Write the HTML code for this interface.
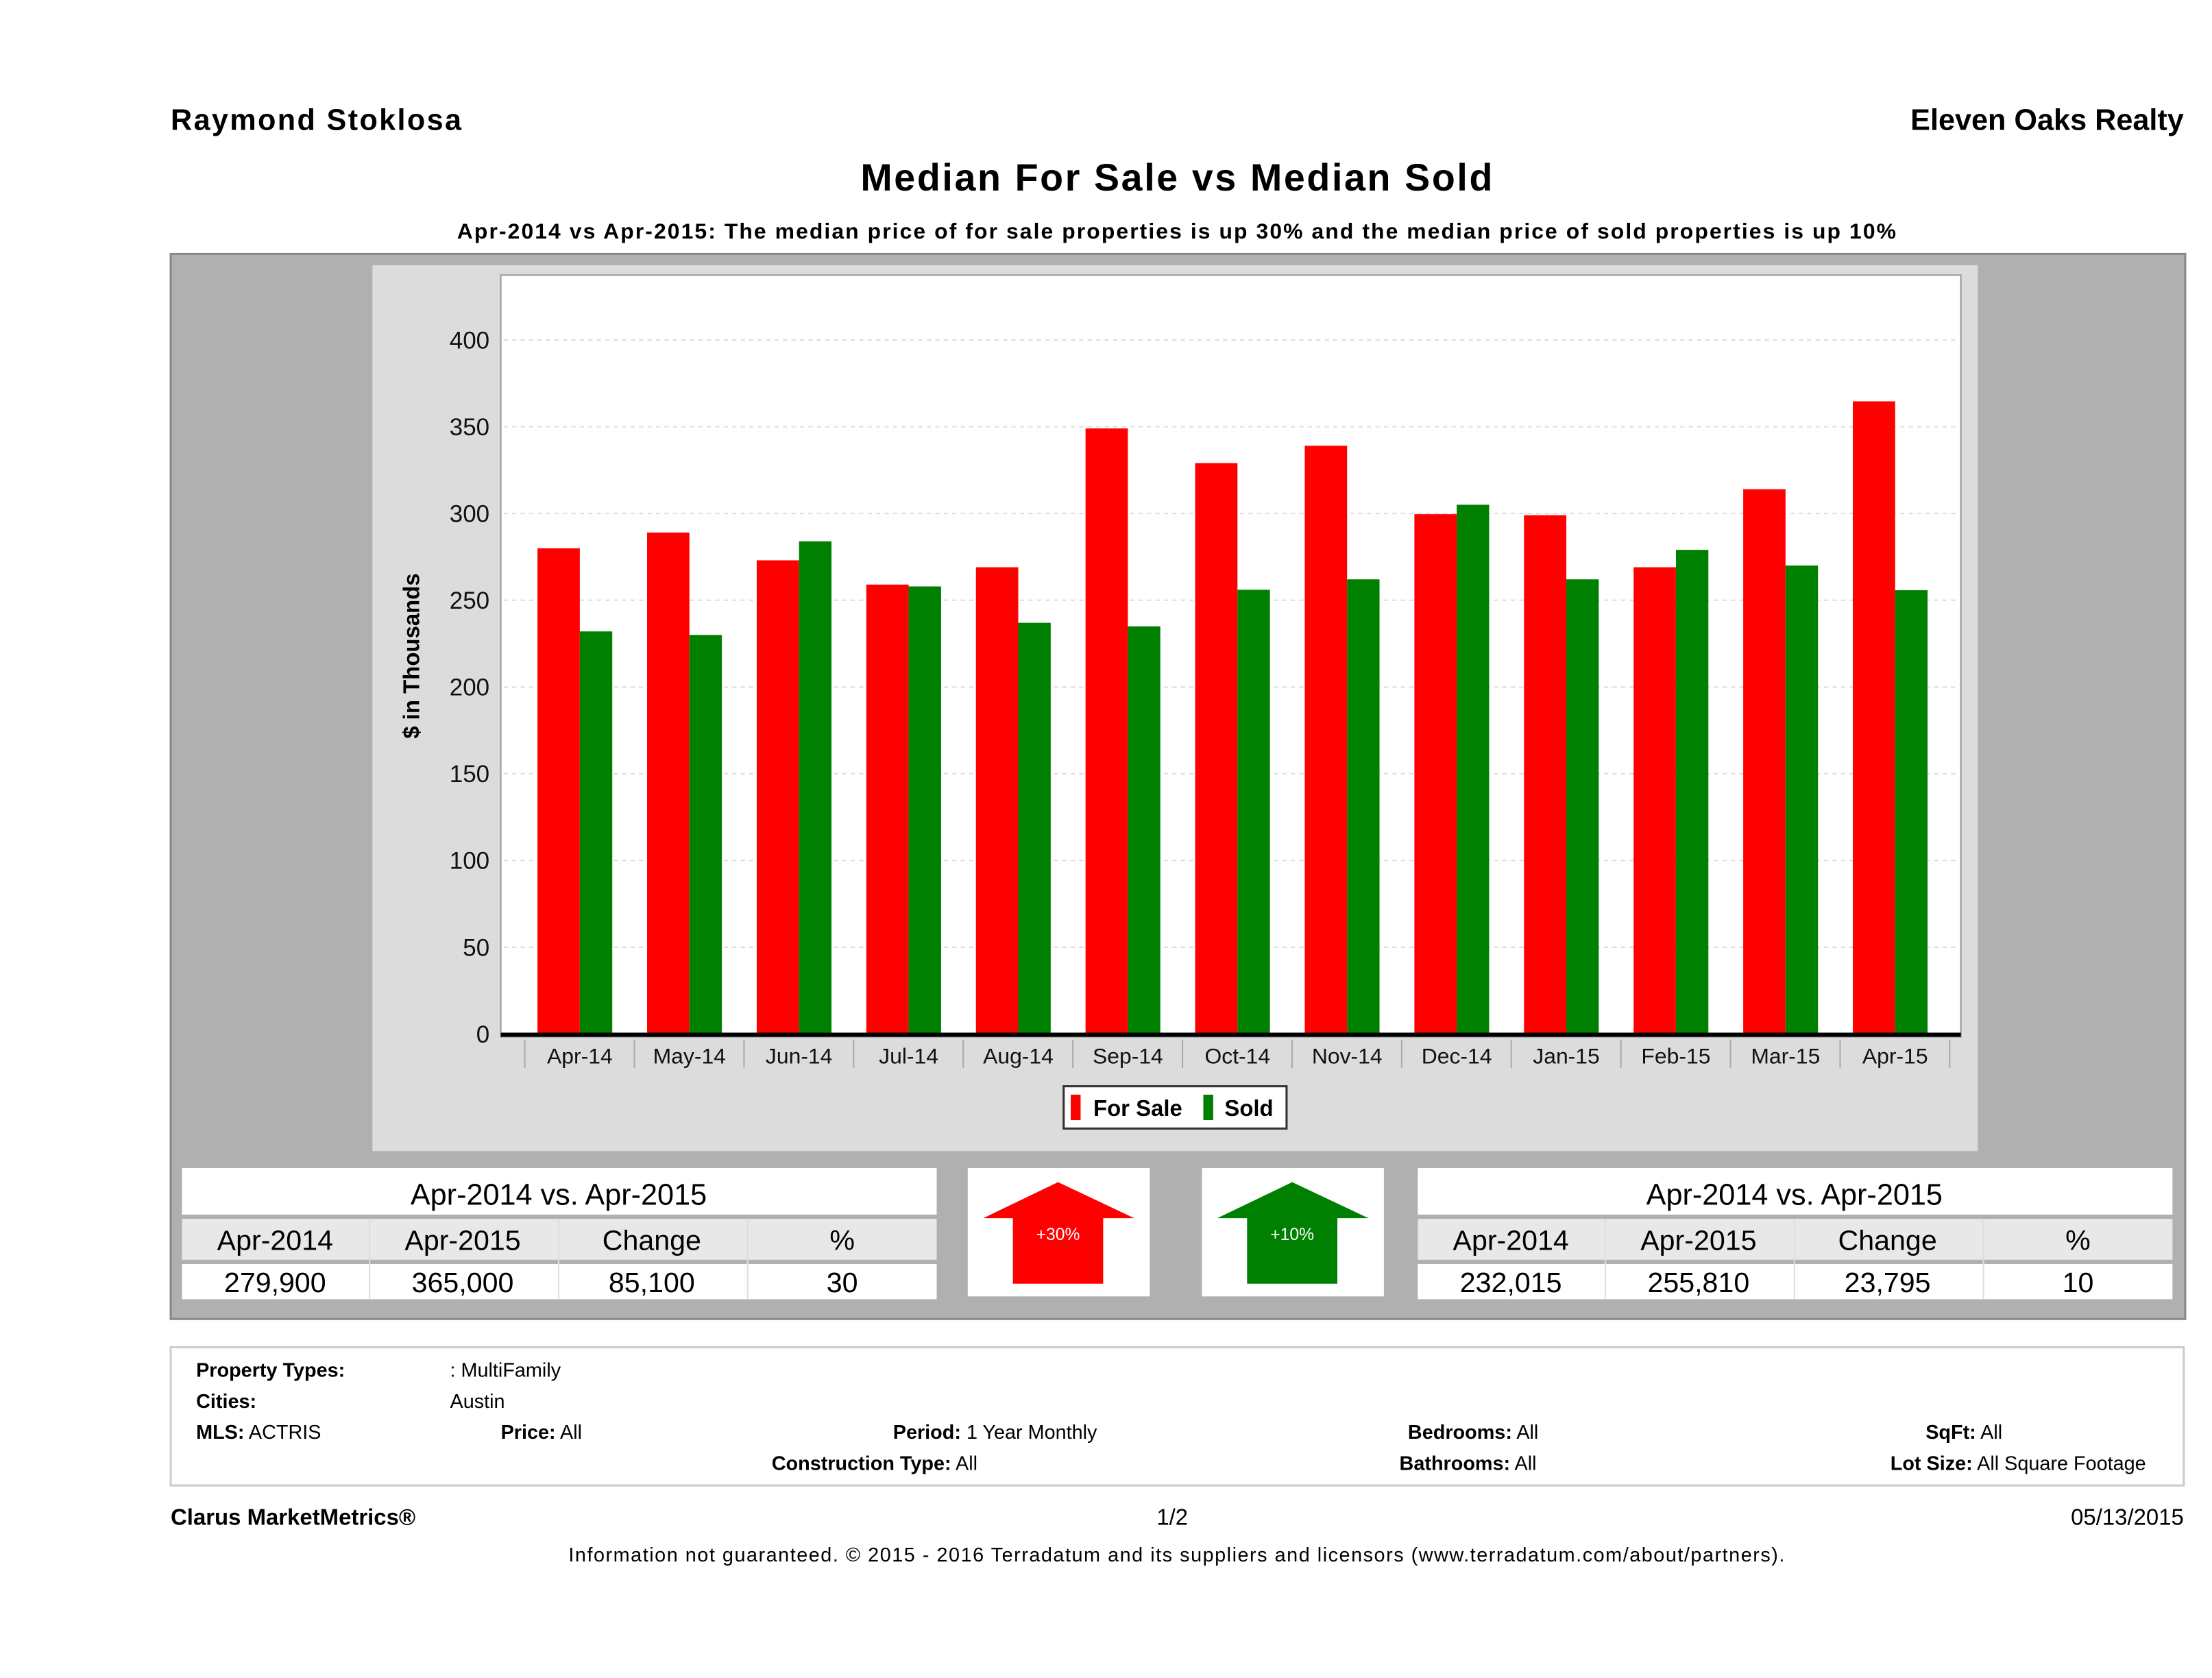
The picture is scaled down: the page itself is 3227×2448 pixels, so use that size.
<!DOCTYPE html>
<html><head><meta charset="utf-8"><style>
html,body{margin:0;padding:0;background:#fff;}
svg{display:block;}
text{font-family:"Liberation Sans",sans-serif;}
</style></head><body>
<svg width="3227" height="2448" viewBox="0 0 1568 1189.5" xmlns="http://www.w3.org/2000/svg">
<rect width="1568" height="1190" fill="#fff"/>
<text x="121" y="92" font-size="21" font-weight="bold" textLength="206">Raymond Stoklosa</text>
<text x="1548" y="92" font-size="21" font-weight="bold" text-anchor="end">Eleven Oaks Realty</text>
<text x="834" y="135" font-size="27" font-weight="bold" text-anchor="middle" textLength="448">Median For Sale vs Median Sold</text>
<text x="834" y="169" font-size="15.5" font-weight="bold" text-anchor="middle" textLength="1020">Apr-2014 vs Apr-2015: The median price of for sale properties is up 30% and the median price of sold properties is up 10%</text>
<!-- gray panel -->
<rect x="121" y="180" width="1428" height="755" fill="#b0b0b0" stroke="#888" stroke-width="1.5"/>
<rect x="264" y="188" width="1138" height="628" fill="#dcdcdc"/>
<rect x="355" y="195" width="1035" height="540" fill="#fff" stroke="#999" stroke-width="1"/>
<g stroke="#ddd" stroke-dasharray="3,3" stroke-width="1">
<line x1="357" x2="1389" y1="241" y2="241"/><line x1="357" x2="1389" y1="302.5" y2="302.5"/>
<line x1="357" x2="1389" y1="364" y2="364"/><line x1="357" x2="1389" y1="425.5" y2="425.5"/>
<line x1="357" x2="1389" y1="487" y2="487"/><line x1="357" x2="1389" y1="548.5" y2="548.5"/>
<line x1="357" x2="1389" y1="610" y2="610"/><line x1="357" x2="1389" y1="671.5" y2="671.5"/>
</g>
<g font-size="17" text-anchor="end" fill="#111">
<text x="347" y="247">400</text><text x="347" y="308.5">350</text><text x="347" y="370">300</text>
<text x="347" y="431.5">250</text><text x="347" y="493">200</text><text x="347" y="554.5">150</text>
<text x="347" y="616">100</text><text x="347" y="677.5">50</text><text x="347" y="739">0</text>
</g>
<text transform="translate(297,465) rotate(-90)" font-size="16" font-weight="bold" text-anchor="middle">$ in Thousands</text>
<g fill="#f00">
<rect x="381" y="388.7" width="30" height="344.3"/><rect x="458.7" y="377.5" width="30" height="355.5"/>
<rect x="536.4" y="397.2" width="30" height="335.8"/><rect x="614.1" y="414.4" width="30" height="318.6"/>
<rect x="691.8" y="402.1" width="30" height="330.9"/><rect x="769.5" y="303.7" width="30" height="429.3"/>
<rect x="847.2" y="328.3" width="30" height="404.7"/><rect x="924.9" y="316" width="30" height="417"/>
<rect x="1002.6" y="364.5" width="30" height="368.5"/><rect x="1080.3" y="365.2" width="30" height="367.8"/>
<rect x="1158" y="402.1" width="30" height="330.9"/><rect x="1235.7" y="346.8" width="30" height="386.2"/>
<rect x="1313.4" y="284.5" width="30" height="448.5"/>
</g>
<g fill="#008000">
<rect x="411" y="447.6" width="23" height="285.4"/><rect x="488.7" y="450.1" width="23" height="282.9"/>
<rect x="566.4" y="383.7" width="23" height="349.3"/><rect x="644.1" y="415.7" width="23" height="317.3"/>
<rect x="721.8" y="441.5" width="23" height="291.5"/><rect x="799.5" y="444" width="23" height="289"/>
<rect x="877.2" y="418.1" width="23" height="314.9"/><rect x="954.9" y="410.7" width="23" height="322.3"/>
<rect x="1032.6" y="357.8" width="23" height="375.2"/><rect x="1110.3" y="410.7" width="23" height="322.3"/>
<rect x="1188" y="389.8" width="23" height="343.2"/><rect x="1265.7" y="400.9" width="23" height="332.1"/>
<rect x="1343.4" y="418.4" width="23" height="314.6"/>
</g>
<line x1="355" x2="1390" y1="733.5" y2="733.5" stroke="#000" stroke-width="3"/>
<g stroke="#aaa" stroke-width="1">
<line x1="372" x2="372" y1="737" y2="757"/><line x1="449.7" x2="449.7" y1="737" y2="757"/>
<line x1="527.4" x2="527.4" y1="737" y2="757"/><line x1="605.1" x2="605.1" y1="737" y2="757"/>
<line x1="682.8" x2="682.8" y1="737" y2="757"/><line x1="760.5" x2="760.5" y1="737" y2="757"/>
<line x1="838.2" x2="838.2" y1="737" y2="757"/><line x1="915.9" x2="915.9" y1="737" y2="757"/>
<line x1="993.6" x2="993.6" y1="737" y2="757"/><line x1="1071.3" x2="1071.3" y1="737" y2="757"/>
<line x1="1149" x2="1149" y1="737" y2="757"/><line x1="1226.7" x2="1226.7" y1="737" y2="757"/>
<line x1="1304.4" x2="1304.4" y1="737" y2="757"/><line x1="1382.1" x2="1382.1" y1="737" y2="757"/>
</g>
<g font-size="15.5" text-anchor="middle" fill="#111">
<text x="411" y="754">Apr-14</text><text x="488.7" y="754">May-14</text><text x="566.4" y="754">Jun-14</text>
<text x="644.1" y="754">Jul-14</text><text x="721.8" y="754">Aug-14</text><text x="799.5" y="754">Sep-14</text>
<text x="877.2" y="754">Oct-14</text><text x="954.9" y="754">Nov-14</text><text x="1032.6" y="754">Dec-14</text>
<text x="1110.3" y="754">Jan-15</text><text x="1188" y="754">Feb-15</text><text x="1265.7" y="754">Mar-15</text>
<text x="1343.4" y="754">Apr-15</text>
</g>
<rect x="754" y="770" width="158" height="30" fill="#fff" stroke="#333" stroke-width="1.5"/>
<rect x="759" y="776" width="7" height="18" fill="#f00"/>
<text x="775" y="791" font-size="16" font-weight="bold">For Sale</text>
<rect x="853" y="776" width="7" height="18" fill="#008000"/>
<text x="868" y="791" font-size="16" font-weight="bold">Sold</text>
<!-- left table -->
<g>
<rect x="129" y="828" width="535" height="33" fill="#fff"/>
<rect x="129" y="864" width="535" height="29" fill="#e8e8e8"/>
<rect x="129" y="896" width="535" height="25" fill="#fff"/>
<text x="396" y="854" font-size="21" text-anchor="middle">Apr-2014 vs. Apr-2015</text>
<g font-size="20" text-anchor="middle">
<text x="195" y="886">Apr-2014</text><text x="328" y="886">Apr-2015</text><text x="462" y="886">Change</text><text x="597" y="886">%</text>
<text x="195" y="916">279,900</text><text x="328" y="916">365,000</text><text x="462" y="916">85,100</text><text x="597" y="916">30</text>
</g>
<g stroke="#ddd"><line x1="262" x2="262" y1="864" y2="921"/><line x1="396" x2="396" y1="864" y2="921"/><line x1="530" x2="530" y1="864" y2="921"/></g>
</g>
<g>
<rect x="1005" y="828" width="535" height="33" fill="#fff"/>
<rect x="1005" y="864" width="535" height="29" fill="#e8e8e8"/>
<rect x="1005" y="896" width="535" height="25" fill="#fff"/>
<text x="1272" y="854" font-size="21" text-anchor="middle">Apr-2014 vs. Apr-2015</text>
<g font-size="20" text-anchor="middle">
<text x="1071" y="886">Apr-2014</text><text x="1204" y="886">Apr-2015</text><text x="1338" y="886">Change</text><text x="1473" y="886">%</text>
<text x="1071" y="916">232,015</text><text x="1204" y="916">255,810</text><text x="1338" y="916">23,795</text><text x="1473" y="916">10</text>
</g>
<g stroke="#ddd"><line x1="1138" x2="1138" y1="864" y2="921"/><line x1="1272" x2="1272" y1="864" y2="921"/><line x1="1406" x2="1406" y1="864" y2="921"/></g>
</g>
<rect x="686" y="828" width="129" height="91" fill="#fff"/>
<polygon points="750,838 804,863.5 782,863.5 782,910 718,910 718,863.5 697,863.5" fill="#f00"/>
<text x="750" y="879" font-size="12" fill="#fff" text-anchor="middle">+30%</text>
<rect x="852" y="828" width="129" height="91" fill="#fff"/>
<polygon points="916,838 970,863.5 948,863.5 948,910 884,910 884,863.5 863,863.5" fill="#008000"/>
<text x="916" y="879" font-size="12" fill="#fff" text-anchor="middle">+10%</text>
<!-- info box -->
<rect x="121" y="955" width="1427" height="98" fill="#fff" stroke="#ccc" stroke-width="1.5"/>
<g font-size="14">
<text x="139" y="976" font-weight="bold">Property Types:</text><text x="319" y="976">: MultiFamily</text>
<text x="139" y="998" font-weight="bold">Cities:</text><text x="319" y="998">Austin</text>
<text x="139" y="1020"><tspan font-weight="bold">MLS:</tspan>  ACTRIS</text>
<text x="355" y="1020"><tspan font-weight="bold">Price:</tspan> All</text>
<text x="633" y="1020"><tspan font-weight="bold">Period:</tspan> 1 Year Monthly</text>
<text x="998" y="1020"><tspan font-weight="bold">Bedrooms:</tspan> All</text>
<text x="1365" y="1020"><tspan font-weight="bold">SqFt:</tspan>  All</text>
<text x="547" y="1042"><tspan font-weight="bold">Construction Type:</tspan> All</text>
<text x="992" y="1042"><tspan font-weight="bold">Bathrooms:</tspan> All</text>
<text x="1340" y="1042"><tspan font-weight="bold">Lot Size:</tspan>  All Square Footage</text>
</g>
<text x="121" y="1081" font-size="16" font-weight="bold">Clarus MarketMetrics®</text>
<text x="831" y="1081" font-size="16" text-anchor="middle">1/2</text>
<text x="1548" y="1081" font-size="16" text-anchor="end">05/13/2015</text>
<text x="834" y="1107" font-size="14" text-anchor="middle" textLength="862">Information not guaranteed. © 2015 - 2016 Terradatum and its suppliers and licensors (www.terradatum.com/about/partners).</text>
</svg>
</body></html>
